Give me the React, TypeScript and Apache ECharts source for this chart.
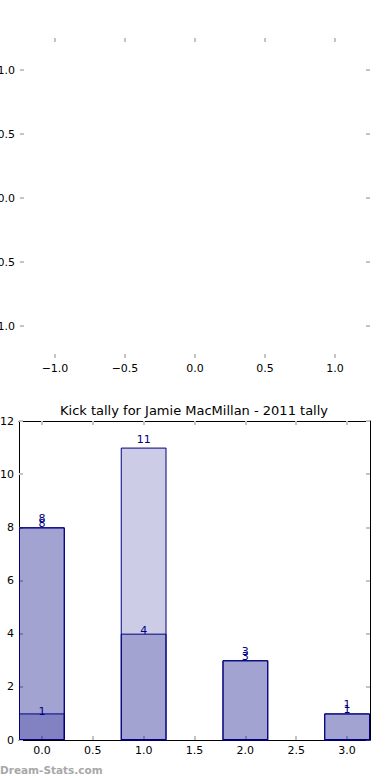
import React, { useEffect, useRef } from "react";
import * as echarts from "echarts";

const barPositions = [0, 1, 2, 3];
const seriesA = [8, 11, 3, 1];
const seriesB = [8, 4, 3, 1];
const seriesC = [1, 0, 0, 0];
const barXTicks = [0, 0.5, 1, 1.5, 2, 2.5, 3];
const emptyTicks = [-1, -0.5, 0, 0.5, 1];
const chartTitle = "Kick tally for Jamie MacMillan - 2011 tally";
const watermark = "Dream-Stats.com";

const FONT = "DejaVu Sans";
const TICK_COLOR = "#c4c4c4";
const fmt = (v: number) => (v < 0 ? "\u2212" : "") + Math.abs(v).toFixed(1);

export default function App() {
  const ref = useRef<HTMLDivElement>(null);
  useEffect(() => {
    if (!ref.current) return;
    const chart = echarts.init(ref.current, undefined, { renderer: "svg" });
    const g1 = { left: 19, top: 421, width: 351, height: 319, outerBoundsMode: "none", containLabel: false };
    const xMin = -0.225;
    const xMax = 3.225;
    const barW = (g1.width * 0.45) / (xMax - xMin);

    const tick = (values?: number[]) => ({
      show: true,
      inside: true,
      length: 4,
      ...(values ? { customValues: values } : {}),
      lineStyle: { color: TICK_COLOR, width: 2 },
    });
    const label = (show: boolean, values: number[] | undefined, formatter: any, margin: number) => ({
      show,
      ...(values ? { customValues: values } : {}),
      formatter,
      margin,
      fontSize: 11,
      color: "#000",
      fontFamily: FONT,
    });
    const line = (show: boolean) => ({
      show,
      onZero: false,
      lineStyle: { color: "#000", width: 1 },
    });

    const mkSeries = (name: string, vals: number[], dist: number) => ({
      name,
      type: "bar",
      xAxisIndex: 2,
      yAxisIndex: 2,
      barWidth: barW,
      barGap: "-100%",
      data: barPositions.map((p, i) => [p, vals[i]]),
      itemStyle: { color: "rgba(0,0,128,0.2)", borderColor: "#000080", borderWidth: 1 },
      label: {
        show: true,
        position: "top",
        distance: dist,
        color: "#000080",
        fontSize: 11,
        fontFamily: FONT,
        formatter: (p: any) => (p.value[1] > 0 ? String(p.value[1]) : ""),
      },
    });

    chart.setOption({
      animation: false,
      title: {
        text: chartTitle,
        left: 60,
        top: 404,
        padding: 0,
        textStyle: { fontSize: 13, fontWeight: "normal", color: "#000", fontFamily: FONT },
      },
      grid: [
        { left: 20, top: 38, width: 350, height: 320, outerBoundsMode: "none", containLabel: false },
        g1,
      ],
      xAxis: [
        {
          type: "value", gridIndex: 0, position: "bottom", min: -1.25, max: 1.25,
          axisLine: line(false), splitLine: { show: false },
          axisTick: tick(emptyTicks), axisLabel: label(true, emptyTicks, fmt, 5),
        },
        {
          type: "value", gridIndex: 0, position: "top", min: -1.25, max: 1.25,
          axisLine: line(false), splitLine: { show: false },
          axisTick: tick(emptyTicks), axisLabel: label(false, emptyTicks, fmt, 5),
        },
        {
          type: "value", gridIndex: 1, position: "bottom", min: xMin, max: xMax,
          axisLine: line(true), splitLine: { show: false },
          axisTick: tick(barXTicks), axisLabel: label(true, barXTicks, (v: number) => v.toFixed(1), 5),
        },
        {
          type: "value", gridIndex: 1, position: "top", min: xMin, max: xMax,
          axisLine: line(true), splitLine: { show: false },
          axisTick: tick(barXTicks), axisLabel: label(false, barXTicks, (v: number) => v.toFixed(1), 5),
        },
      ],
      yAxis: [
        {
          type: "value", gridIndex: 0, position: "left", min: -1.25, max: 1.25,
          axisLine: line(false), splitLine: { show: false },
          axisTick: tick(emptyTicks), axisLabel: label(true, emptyTicks, fmt, 5),
        },
        {
          type: "value", gridIndex: 0, position: "right", min: -1.25, max: 1.25,
          axisLine: line(false), splitLine: { show: false },
          axisTick: tick(emptyTicks), axisLabel: label(false, emptyTicks, fmt, 5),
        },
        {
          type: "value", gridIndex: 1, position: "left", min: 0, max: 12, interval: 2,
          axisLine: line(true), splitLine: { show: false },
          axisTick: tick(), axisLabel: label(true, undefined, (v: number) => String(v), 5),
        },
        {
          type: "value", gridIndex: 1, position: "right", min: 0, max: 12, interval: 2,
          axisLine: line(true), splitLine: { show: false },
          axisTick: tick(), axisLabel: label(false, undefined, (v: number) => String(v), 5),
        },
      ],
      series: [
        mkSeries("A", seriesA, 3),
        mkSeries("B", seriesB, -2),
        mkSeries("C", seriesC, -4),
      ],
      graphic: [
        {
          type: "text",
          left: 0,
          top: 764,
          style: { text: watermark, fontSize: 10.5, fontWeight: "bold", fill: "#a8a8a8", fontFamily: FONT },
        },
      ],
    });
    return () => chart.dispose();
  }, []);
  return (
    <div
      ref={ref}
      style={{ position: "absolute", left: 0, top: 0, width: 390, height: 780, background: "#fff" }}
    />
  );
}
